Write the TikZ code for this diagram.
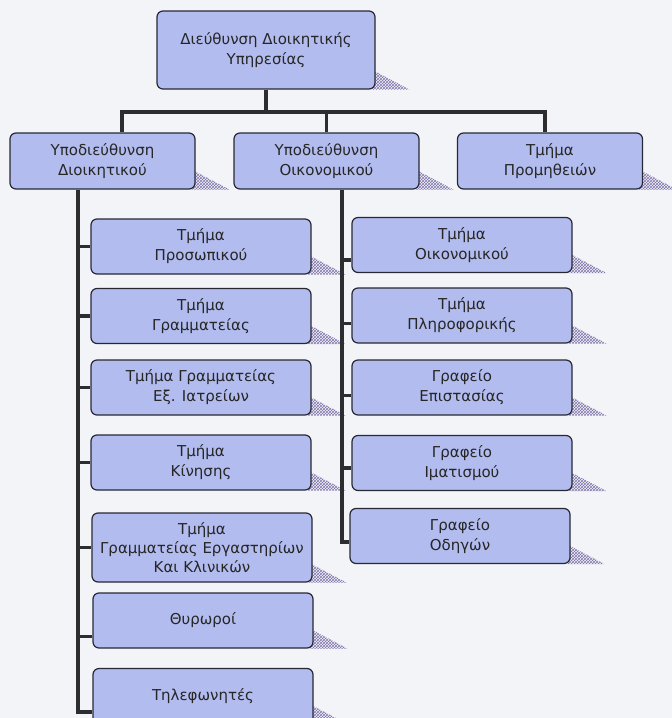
\documentclass[tikz,border=0pt]{standalone}
\usepackage{fontspec}
\setmainfont{DejaVu Sans}
\usetikzlibrary{patterns,backgrounds}
\definecolor{boxblue}{RGB}{178,188,238}
\definecolor{boxline}{RGB}{40,40,52}
\definecolor{linkgray}{RGB}{45,45,48}
\definecolor{hatchcol}{RGB}{130,118,172}
\definecolor{paper}{RGB}{243,244,248}

\begin{document}
\begin{tikzpicture}[x=1pt,y=-1pt,
    box/.style={draw=boxline,line width=1.2pt,fill=boxblue,rounded corners=6pt,
      align=center,inner sep=0pt,minimum height=55pt,text=black!85,
      font=\fontsize{15}{20}\selectfont},
    level/.style={minimum width=185pt,minimum height=56pt},
    dept/.style={minimum width=220pt},
    link/.style={draw=linkgray,line width=3.2pt},
    hatch/.style={pattern=crosshatch,pattern color=hatchcol}]

  \useasboundingbox (0,0) rectangle (672,718);
  \clip (0,0) rectangle (672,718);

  % head and the three sub-units
  \node[box,minimum width=218pt,minimum height=78pt] (dds) at (266,50) {Διεύθυνση Διοικητικής\\Υπηρεσίας};
  \node[box,level] (sdd) at (102.5,161) {Υποδιεύθυνση\\Διοικητικού};
  \node[box,level] (so) at (326.5,161) {Υποδιεύθυνση\\Οικονομικού};
  \node[box,level] (pm) at (550,161) {Τμήμα\\Προμηθειών};

  % left column
  \node[box,dept] (t1) at (201,246.5) {Τμήμα\\Προσωπικού};
  \node[box,dept] (t2) at (201,316) {Τμήμα\\Γραμματείας};
  \node[box,dept] (t3) at (201,387.5) {Τμήμα Γραμματείας\\Εξ. Ιατρείων};
  \node[box,dept] (t4) at (201,462.5) {Τμήμα\\Κίνησης};
  \node[box,dept,minimum height=69pt,font=\fontsize{15}{19}\selectfont] (t5) at (202,547.5) {Τμήμα\\Γραμματείας Εργαστηρίων\\Και Κλινικών};
  \node[box,dept] (t6) at (203,620.5) {Θυρωροί};
  \node[box,dept] (t7) at (203,696) {Τηλεφωνητές};

  % right column
  \node[box,dept] (r1) at (462,245) {Τμήμα\\Οικονομικού};
  \node[box,dept] (r2) at (462,315.5) {Τμήμα\\Πληροφορικής};
  \node[box,dept] (r3) at (462,387.5) {Γραφείο\\Επιστασίας};
  \node[box,dept] (r4) at (462,463) {Γραφείο\\Ιματισμού};
  \node[box,dept] (r5) at (460,536) {Γραφείο\\Οδηγών};

  % top bar
  \coordinate (bar) at (0,112);
  \coordinate (dl) at ([xshift=19.5pt]sdd.north);
  \coordinate (dr) at ([xshift=-5pt]pm.north);
  \draw[link] (dl) |- (dr |- bar) -- (dr);
  \draw[link] (dds.south) -- (dds.south |- bar);
  \draw[link] (so.north) -- (so.north |- bar);

  % left spine
  \coordinate (lsp) at ([xshift=-24.5pt]sdd.south);
  \coordinate (b6) at ([yshift=-16pt]t6.west);
  \coordinate (b7) at ([yshift=-16pt]t7.west);
  \draw[link] (lsp) -- (lsp |- b7) -- (b7);
  \foreach \n in {t1,t2,t3,t4,t5}
    \draw[link] (\n.west -| lsp) -- (\n.west);
  \draw[link] (b6 -| lsp) -- (b6);

  % right spine
  \coordinate (rsp) at ([xshift=15.5pt]so.south);
  \foreach \n/\d in {r1/15,r2/8,r3/8,r4/5,r5/6}
    \coordinate (c\n) at ([yshift=-\d pt]\n.west);
  \draw[link] (rsp) -- (rsp |- cr5) -- (cr5);
  \foreach \n in {r1,r2,r3,r4}
    \draw[link] (c\n -| rsp) -- (c\n);

  % hatched drop shadows
  \begin{scope}[on background layer]
    \fill[paper] (0,0) rectangle (672,718);
    \foreach \n in {dds,sdd,so,pm,t1,t2,t3,t4,t5,t6,t7,r1,r2,r3,r4,r5}
      \fill[hatch] ([xshift=-4pt,yshift=20pt]\n.south east) -- ([xshift=34pt]\n.south east)
        -- ([xshift=-4pt]\n.south east) -- cycle;
  \end{scope}

\end{tikzpicture}
\end{document}
